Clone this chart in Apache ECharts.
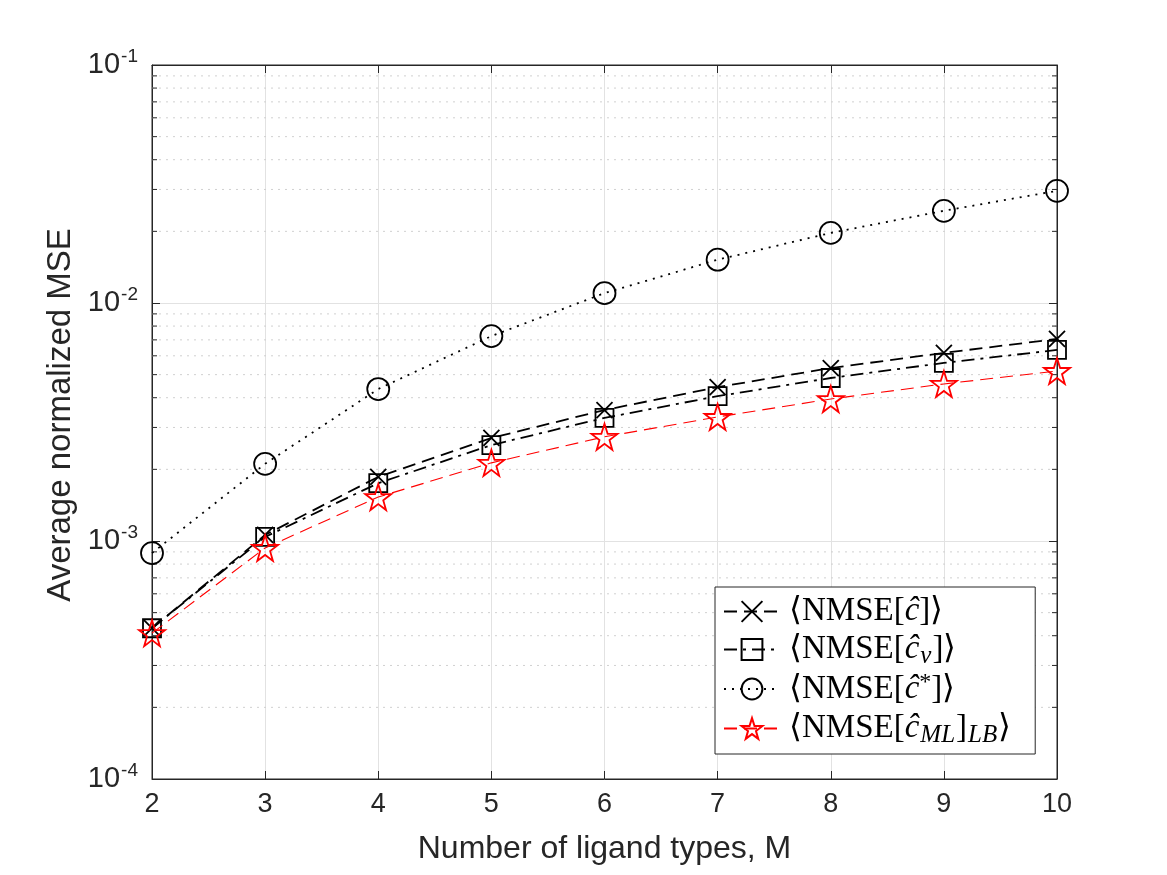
<!DOCTYPE html>
<html>
<head>
<meta charset="utf-8">
<script src="https://cdn.jsdelivr.net/npm/echarts@6/dist/echarts.min.js"></script>
<style>html,body{margin:0;padding:0;background:#fff;}#c{width:1167px;height:875px;}</style>
</head>
<body>
<div id="c"></div>
<script>
// ---- data ----
var xValues = [2, 3, 4, 5, 6, 7, 8, 9, 10];
var nmseC     = [4.3e-4, 1.06e-3, 1.86e-3, 2.71e-3, 3.55e-3, 4.43e-3, 5.33e-3, 6.17e-3, 7.06e-3];
var nmseCnu   = [4.3e-4, 1.04e-3, 1.75e-3, 2.53e-3, 3.29e-3, 4.06e-3, 4.84e-3, 5.60e-3, 6.35e-3];
var nmseCstar = [8.9e-4, 2.11e-3, 4.35e-3, 7.26e-3, 1.10e-2, 1.52e-2, 1.97e-2, 2.44e-2, 2.96e-2];
var nmseCml   = [4.1e-4, 9.35e-4, 1.53e-3, 2.13e-3, 2.74e-3, 3.32e-3, 3.95e-3, 4.57e-3, 5.18e-3];
var seriesNames = ['c', 'cnu', 'cstar', 'cml'];
var minorGridValues = [2e-4, 3e-4, 4e-4, 5e-4, 6e-4, 7e-4, 8e-4, 9e-4,
                       2e-3, 3e-3, 4e-3, 5e-3, 6e-3, 7e-3, 8e-3, 9e-3,
                       2e-2, 3e-2, 4e-2, 5e-2, 6e-2, 7e-2, 8e-2, 9e-2];
var xMin = 2, xMax = 10;
var xAxisName = 'Number of ligand types, M';
var yAxisName = 'Average normalized MSE';

function pairs(arr) { return xValues.map(function (x, i) { return [x, arr[i]]; }); }

var XPATH = 'path://M0,0L10,10M10,0L0,10';
var SQPATH = 'path://M0,0L10,0L10,10L0,10Z';
var CIRPATH = 'path://M0,10A10,10,0,1,1,20,10A10,10,0,1,1,0,10Z';
var STARPATH = 'path://M50,0L61.8,35.1L98.9,35.1L68.8,56.7L79.4,91L50,70L20.6,91L31.2,56.7L1.1,35.1L38.2,35.1Z';

var LF = 33;
var legendRich = {
  n: { fontFamily: 'Liberation Serif', fontSize: LF, color: '#000', lineHeight: 36 },
  i: { fontFamily: 'Liberation Serif', fontStyle: 'italic', fontSize: LF, color: '#000', lineHeight: 36 },
  sub: { fontFamily: 'Liberation Serif', fontStyle: 'italic', fontSize: 25, color: '#000', lineHeight: 36, padding: [14, 1, 0, 1] },
  sup: { fontFamily: 'Liberation Serif', fontStyle: 'normal', fontSize: 24, color: '#000', lineHeight: 36, padding: [0, 0, 12, 0] }
};
var legendText = {
  c: '{n|⟨NMSE[}{i|ĉ}{n|]⟩}',
  cnu: '{n|⟨NMSE[}{i|ĉ}{sub|ν}{n|]⟩}',
  cstar: '{n|⟨NMSE[}{i|ĉ}{sup|*}{n|]⟩}',
  cml: '{n|⟨NMSE[}{i|ĉ}{sub|ML}{n|]}{sub|LB}{n|⟩}'
};

var chart = echarts.init(document.getElementById('c'));
var axisColor = '#262626';
var option = {
  animation: false,
  backgroundColor: '#fff',
  grid: { left: 152, right: 110, top: 65, bottom: 96, show: true, borderColor: axisColor, borderWidth: 1 },
  legend: {
    orient: 'vertical',
    left: 715, top: 587,
    data: seriesNames,
    backgroundColor: '#fff',
    borderColor: axisColor, borderWidth: 1,
    padding: [8, 24, 6, 8],
    itemWidth: 56, itemHeight: 26, itemGap: 2,
    formatter: function (name) { return legendText[name]; },
    textStyle: { rich: legendRich, padding: [0, 0, 0, 4] }
  },
  xAxis: [{
    type: 'value', min: xMin, max: xMax, interval: 1,
    name: xAxisName, nameLocation: 'middle', nameGap: 54,
    nameTextStyle: { fontFamily: 'Liberation Sans', fontSize: 32, color: '#262626' },
    axisLine: { show: true, lineStyle: { color: axisColor } },
    axisTick: { inside: true, length: 8, lineStyle: { color: axisColor } },
    axisLabel: { fontFamily: 'Liberation Sans', fontSize: 27, color: '#262626', margin: 12 },
    splitLine: { show: true, lineStyle: { color: '#e2e2e2', width: 1 } }
  }, {
    type: 'value', min: xMin, max: xMax, interval: 1, position: 'top',
    axisLine: { show: true, lineStyle: { color: axisColor } },
    axisTick: { inside: true, length: 8, lineStyle: { color: axisColor } },
    axisLabel: { show: false }, splitLine: { show: false }
  }],
  yAxis: [{
    type: 'log', logBase: 10, min: 1e-4, max: 1e-1,
    name: yAxisName, nameLocation: 'middle', nameGap: 72,
    nameTextStyle: { fontFamily: 'Liberation Sans', fontSize: 33, color: '#262626', padding: [0, 0, 0, 14] },
    axisLine: { show: true, lineStyle: { color: axisColor } },
    axisTick: { inside: true, length: 8, lineStyle: { color: axisColor } },
    axisLabel: {
      margin: 14,
      formatter: function (v) { return '{b|10}{s|' + Math.round(Math.log10(v)) + '}'; },
      rich: {
        b: { fontFamily: 'Liberation Sans', fontSize: 29, color: '#262626' },
        s: { fontFamily: 'Liberation Sans', fontSize: 19, color: '#262626', padding: [0, 0, 16, 1] }
      }
    },
    splitLine: { show: true, lineStyle: { color: '#e2e2e2', width: 1 } }
  }, {
    type: 'log', logBase: 10, min: 1e-4, max: 1e-1, position: 'right',
    axisLine: { show: true, lineStyle: { color: axisColor } },
    axisTick: { inside: true, length: 8, lineStyle: { color: axisColor } },
    axisLabel: { show: false }, splitLine: { show: false }
  }],
  series: [
    {
      name: 'minorGrid', type: 'custom', silent: true, z: 1,
      data: minorGridValues.map(function (v) { return [xMin, v]; }),
      renderItem: function (params, api) {
        var v = api.value(1);
        var a = api.coord([xMin, v]);
        var b = api.coord([xMax, v]);
        return {
          type: 'group',
          children: [
            { type: 'line', shape: { x1: a[0], y1: a[1], x2: b[0], y2: b[1] },
              style: { stroke: '#d0d0d0', lineWidth: 1, lineDash: [2, 5] } },
            { type: 'line', shape: { x1: a[0], y1: a[1], x2: a[0] + 5, y2: a[1] },
              style: { stroke: axisColor, lineWidth: 1 } },
            { type: 'line', shape: { x1: b[0] - 5, y1: b[1], x2: b[0], y2: b[1] },
              style: { stroke: axisColor, lineWidth: 1 } }
          ]
        };
      }
    },
    {
      name: 'c', type: 'line', data: pairs(nmseC),
      symbol: XPATH, symbolSize: 16,
      lineStyle: { color: '#000', width: 1.8, type: [13, 7] },
      itemStyle: { color: 'none', borderColor: '#000', borderWidth: 1.8 },
      emphasis: { disabled: true }, z: 5
    },
    {
      name: 'cnu', type: 'line', data: pairs(nmseCnu),
      symbol: SQPATH, symbolSize: 18,
      lineStyle: { color: '#000', width: 1.8, type: [13, 6, 3, 6] },
      itemStyle: { color: 'none', borderColor: '#000', borderWidth: 1.8 },
      emphasis: { disabled: true }, z: 5
    },
    {
      name: 'cstar', type: 'line', data: pairs(nmseCstar),
      symbol: CIRPATH, symbolSize: 22,
      lineStyle: { color: '#000', width: 1.8, type: [2, 6] },
      itemStyle: { color: 'none', borderColor: '#000', borderWidth: 1.8 },
      emphasis: { disabled: true }, z: 5
    },
    {
      name: 'cml', type: 'line', data: pairs(nmseCml),
      symbol: STARPATH, symbolSize: 26,
      lineStyle: { color: '#ff0000', width: 1.1, type: [13, 7] },
      itemStyle: { color: 'none', borderColor: '#ff0000', borderWidth: 1.8 },
      emphasis: { disabled: true }, z: 6
    }
  ]
};
chart.setOption(option);
</script>
</body>
</html>
